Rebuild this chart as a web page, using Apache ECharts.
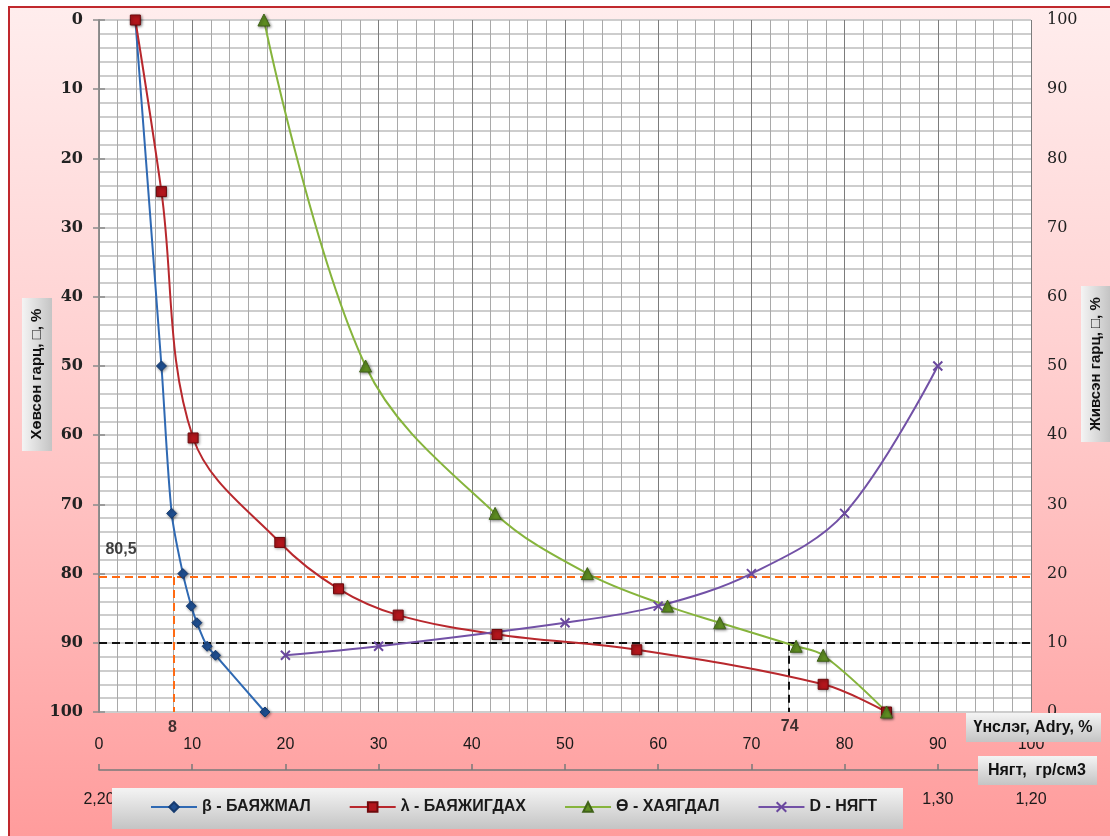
<!DOCTYPE html>
<html>
<head>
<meta charset="utf-8">
<script src="https://cdn.jsdelivr.net/npm/echarts@6/dist/echarts.min.js"></script>
<style>
html,body{margin:0;padding:0;background:#fff;width:1110px;height:836px;overflow:hidden;}
#bg{position:absolute;left:8px;top:6px;right:0;bottom:0;border-left:2px solid #c0282d;border-top:2px solid #c0282d;
background:linear-gradient(to bottom,#ffeded 0%,#ffd2d2 40%,#ffb4b4 75%,#ff9c9c 100%);}
#chart{position:absolute;left:0;top:0;width:1110px;height:836px;}
</style>
</head>
<body>
<div id="bg"></div>
<div id="chart"></div>
<script>
// ---- data ----
const sinkYield = [0, 50, 71.3, 80, 84.7, 87.1, 90.5, 91.8, 100];          // Хөвсөн гарц, %
const betaAsh   = [3.9, 6.7, 7.8, 9.0, 9.9, 10.5, 11.6, 12.5, 17.8];       // β - БАЯЖМАЛ
const lambdaY   = [0, 24.8, 60.4, 75.5, 82.2, 86.0, 88.8, 91.0, 96.0, 100];
const lambdaAsh = [3.9, 6.7, 10.1, 19.4, 25.7, 32.1, 42.7, 57.7, 77.7, 84.5]; // λ - БАЯЖИГДАХ
const thetaAsh  = [17.7, 28.6, 42.5, 52.4, 61.0, 66.6, 74.8, 77.7, 84.5];  // Ө - ХАЯГДАЛ
const densityX  = [20, 30, 50, 60, 70, 80, 90];                            // D - НЯГТ
const densityY  = [91.8, 90.5, 87.1, 84.7, 80, 71.3, 50];
const densityTicks = ['2,20','2,10','2,00','1,90','1,80','1,70','1,60','1,50','1,40','1,30','1,20'];
const guideOrange = { x: 8, y: 80.5 };
const guideBlack  = { x: 74, y: 90 };
const seriesNames = ['β - БАЯЖМАЛ', 'λ - БАЯЖИГДАХ', 'Ө - ХАЯГДАЛ', 'D - НЯГТ'];

const zip = (xs, ys) => xs.map((x, i) => [x, ys[i]]);
const FS = 'Liberation Sans, DejaVu Sans, sans-serif';
const SERIF = 'DejaVu Serif, Liberation Serif, serif';
const shadow = { shadowBlur: 3, shadowColor: 'rgba(0,0,0,0.45)', shadowOffsetX: 1, shadowOffsetY: 1 };

const chart = echarts.init(document.getElementById('chart'), null, { renderer: 'canvas' });

const grayBox = (x, y, w, h, horizontal) => ({
  type: 'rect', z: 50, silent: true,
  shape: { x: x, y: y, width: w, height: h },
  style: {
    fill: new echarts.graphic.LinearGradient(0, 0, horizontal ? 1 : 0, horizontal ? 0 : 1, [
      { offset: 0, color: '#f4f4f4' }, { offset: 1, color: '#c4c4c4' }])
  }
});
const boxText = (x, y, t, rot, size) => ({
  type: 'text', z: 51, silent: true, x: x, y: y, rotation: rot || 0,
  style: { text: t, font: 'bold ' + (size || 15) + 'px ' + FS, fill: '#111', align: 'center', verticalAlign: 'middle' }
});

const option = {
  animation: false,
  grid: { left: 99, right: 79, top: 20, bottom: 124, show: true, backgroundColor: '#ffffff', borderWidth: 0 },
  xAxis: [
    {
      type: 'value', min: 0, max: 100, interval: 10, position: 'bottom',
      axisLine: { show: false }, axisTick: { show: false },
      axisLabel: { margin: 25, fontSize: 16, color: '#1a1a1a', fontFamily: FS },
      splitLine: { show: true, lineStyle: { color: '#7c7c7c', width: 1 } },
      minorTick: { show: false, splitNumber: 5 },
      minorSplitLine: { show: true, lineStyle: { color: '#a9a9a9', width: 1 } }
    },
    {
      type: 'value', min: 0, max: 100, interval: 10, position: 'bottom', offset: 58,
      axisLine: { show: true, onZero: false, lineStyle: { color: '#7a7a7a', width: 1.5 } },
      axisTick: { show: true, inside: true, length: 6, lineStyle: { color: '#7a7a7a', width: 1.5 } },
      axisLabel: { margin: 22, fontSize: 16, color: '#1a1a1a', fontFamily: FS,
        formatter: v => densityTicks[Math.round(v / 10)] },
      splitLine: { show: false }
    }
  ],
  yAxis: [
    {
      type: 'value', inverse: true, min: 0, max: 100, interval: 10, position: 'left',
      axisLine: { show: true, lineStyle: { color: '#8a8a8a', width: 1.5 } },
      axisTick: { show: true, length: 6, lineStyle: { color: '#8a8a8a', width: 1.5 } },
      axisLabel: { margin: 16, fontSize: 16, fontWeight: 'bold', color: '#222', fontFamily: SERIF },
      splitLine: { show: true, lineStyle: { color: '#cdcdcd', width: 2 } },
      minorTick: { show: false, splitNumber: 5 },
      minorSplitLine: { show: true, lineStyle: { color: '#cdcdcd', width: 2 } }
    },
    {
      type: 'value', min: 0, max: 100, interval: 10, position: 'right',
      axisLine: { show: true, lineStyle: { color: '#8a8a8a', width: 1.5 } },
      axisTick: { show: true, length: 6, lineStyle: { color: '#8a8a8a', width: 1.5 } },
      axisLabel: { margin: 16, fontSize: 16, color: '#222', fontFamily: SERIF },
      splitLine: { show: false }
    }
  ],
  legend: {
    data: seriesNames, left: 150, top: 799, itemGap: 38, itemWidth: 46, itemHeight: 12, padding: 0, z: 60,
    textStyle: { fontWeight: 'bold', fontSize: 16, color: '#1a1a1a', fontFamily: FS }
  },
  graphic: [
    grayBox(112, 788, 791, 41, false),
    grayBox(22, 298, 30, 153, true), boxText(37, 374, 'Хөвсөн гарц, □, %', Math.PI / 2, 15),
    grayBox(1081, 286, 29, 156, true), boxText(1096, 364, 'Живсэн гарц, □, %', Math.PI / 2, 15),
    grayBox(966, 713, 135, 29, false), boxText(1033, 728, 'Үнслэг, Adry, %', 0, 16),
    grayBox(978, 756, 119, 29, false), boxText(1037, 771, 'Нягт,  гр/см3', 0, 16)
  ],
  series: [
    {
      name: seriesNames[0], type: 'line', smooth: 0.3, data: zip(betaAsh, sinkYield),
      symbol: 'diamond', symbolSize: 10,
      lineStyle: { color: '#2f69b3', width: 2 },
      itemStyle: Object.assign({ color: '#1f4f91', borderColor: '#163b70', borderWidth: 1 }, shadow), z: 5
    },
    {
      name: seriesNames[1], type: 'line', smooth: 0.35, data: zip(lambdaAsh, lambdaY),
      symbol: 'rect', symbolSize: 10,
      lineStyle: { color: '#b8282d', width: 2 },
      itemStyle: Object.assign({ color: '#b3161c', borderColor: '#6e0a0d', borderWidth: 1 }, shadow), z: 5
    },
    {
      name: seriesNames[2], type: 'line', smooth: 0.35, data: zip(thetaAsh, sinkYield),
      symbol: 'triangle', symbolSize: 12,
      lineStyle: { color: '#86b43c', width: 2 },
      itemStyle: Object.assign({ color: '#5f8e22', borderColor: '#40631a', borderWidth: 1 }, shadow), z: 5
    },
    {
      name: seriesNames[3], type: 'line', smooth: 0.35, data: zip(densityX, densityY),
      symbol: 'path://M0,0L10,10M10,0L0,10', symbolSize: 9,
      lineStyle: { color: '#7251a6', width: 2 },
      itemStyle: { color: '#7251a6', borderColor: '#6a489e', borderWidth: 2 }, z: 5
    },
    {
      name: 'guides', type: 'line', data: [], z: 4,
      markLine: {
        silent: true, symbol: 'none', label: { show: false }, animation: false,
        lineStyle: { type: [8, 5], width: 2 },
        data: [
          [{ coord: [0, guideOrange.y], lineStyle: { color: '#ff6a13' } }, { coord: [100, guideOrange.y] }],
          [{ coord: [guideOrange.x, guideOrange.y], lineStyle: { color: '#ff6a13' } }, { coord: [guideOrange.x, 100] }],
          [{ coord: [0, guideBlack.y], lineStyle: { color: '#111' } }, { coord: [100, guideBlack.y] }],
          [{ coord: [guideBlack.x, guideBlack.y], lineStyle: { color: '#111' } }, { coord: [guideBlack.x, 100] }]
        ]
      }
    },
    {
      name: 'guideLabels', type: 'scatter', symbolSize: 1, clip: false, z: 6, silent: true,
      itemStyle: { color: 'rgba(0,0,0,0)' },
      label: { show: true, position: 'inside', fontSize: 16, fontWeight: 'bold', color: '#111', fontFamily: FS,
        formatter: p => String(p.value[2]).replace('.', ',') },
      data: [
        { value: [0, guideOrange.y, guideOrange.y], label: { offset: [22, -27] } },
        { value: [guideOrange.x, 100, guideOrange.x], label: { offset: [-1, 16] } },
        { value: [guideBlack.x, 100, guideBlack.x], label: { offset: [1, 15] } }
      ]
    }
  ]
};
chart.setOption(option);
</script>
</body>
</html>
